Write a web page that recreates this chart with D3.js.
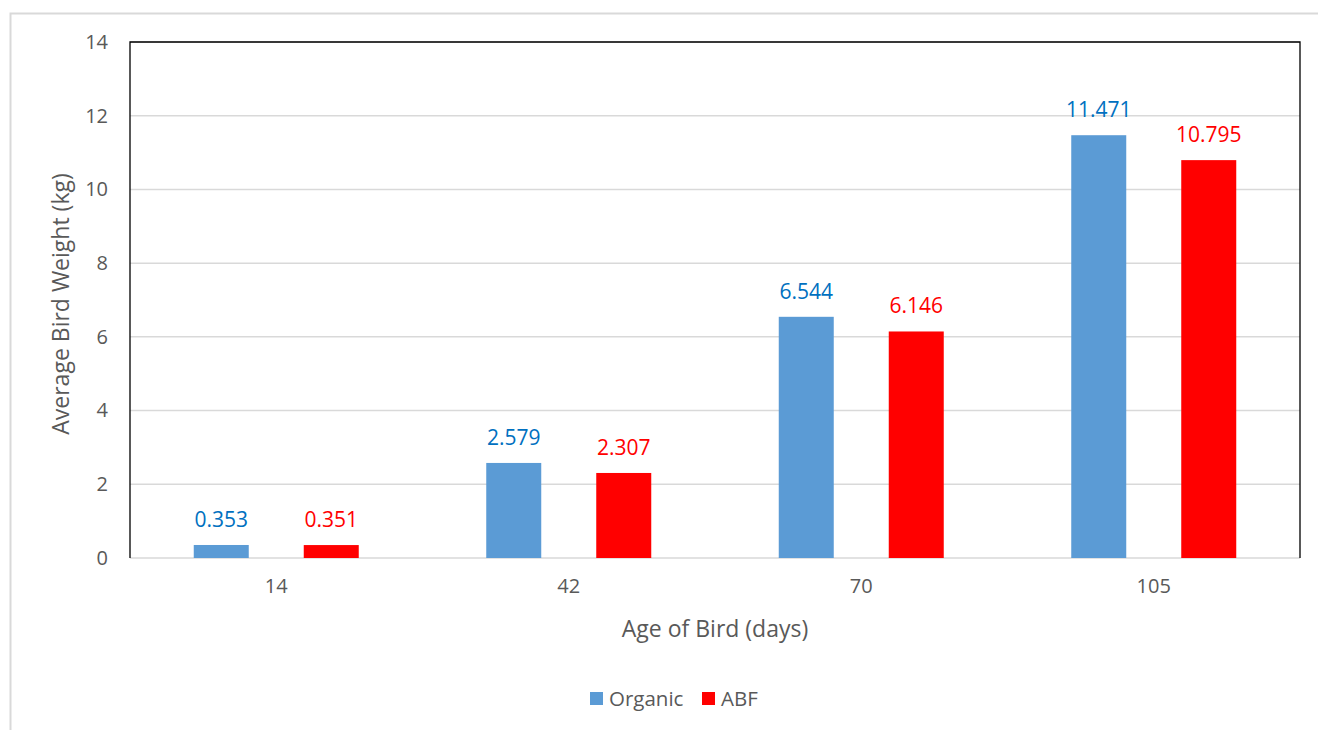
<!DOCTYPE html>
<html>
<head>
<meta charset="utf-8">
<script src="https://cdn.jsdelivr.net/npm/d3@7"></script>
<style>
  html, body { margin: 0; padding: 0; background: #fff; }
  svg { display: block; font-family: "Open Sans", "Noto Sans", sans-serif; }
</style>
</head>
<body>
<svg id="chart" width="1318" height="730"></svg>
<script>
// Bird age groups (days) and average weights (kg) per feeding programme
const categories = ["14", "42", "70", "105"];
const seriesNames = ["Organic", "ABF"];
const organicValues = [0.353, 2.579, 6.544, 11.471];
const abfValues = [0.351, 2.307, 6.146, 10.795];
const yTicks = [0, 2, 4, 6, 8, 10, 12, 14];

const barColors = { Organic: "#5b9bd5", ABF: "#ff0000" };
const labelColors = { Organic: "#0070c0", ABF: "#ff0000" };

const svg = d3.select("#chart");

// outer chart frame
svg.append("rect")
  .attr("x", 10.5).attr("y", 13.5)
  .attr("width", 1320).attr("height", 730)
  .attr("fill", "none").attr("stroke", "#d9d9d9").attr("stroke-width", 2);

const plot = { left: 130, top: 42, right: 1300, bottom: 558 };

const y = d3.scaleLinear().domain([0, 14]).range([plot.bottom, plot.top]);
const x0 = d3.scaleBand().domain(categories).range([plot.left, plot.right]).padding(0);
const groupPad = (x0.bandwidth() - 165) / 2;
const x1 = d3.scaleBand().domain(seriesNames)
  .range([groupPad, x0.bandwidth() - groupPad]).paddingInner(0.5).paddingOuter(0);

// horizontal gridlines
svg.append("g")
  .selectAll("line")
  .data(yTicks)
  .join("line")
  .attr("x1", plot.left).attr("x2", plot.right)
  .attr("y1", d => y(d)).attr("y2", d => y(d))
  .attr("stroke", "#d9d9d9").attr("stroke-width", 1.5);

// plot area border (left, top, right)
svg.append("path")
  .attr("d", `M${plot.left},${plot.bottom}V${plot.top}H${plot.right}V${plot.bottom}`)
  .attr("fill", "none").attr("stroke", "#000").attr("stroke-width", 1.3);

// y axis tick labels
const yAxis = d3.axisLeft(y).tickValues(yTicks).tickSize(0).tickPadding(22);
const gy = svg.append("g").attr("transform", `translate(${plot.left},0)`).call(yAxis);
gy.select(".domain").remove();
gy.selectAll("text")
  .attr("fill", "#595959")
  .style("font-size", "20px")
  .style("font-family", "'Open Sans', 'Noto Sans', sans-serif");

// x axis tick labels
const xAxis = d3.axisBottom(x0).tickSize(0).tickPadding(21);
const gx = svg.append("g").attr("transform", `translate(0,${plot.bottom})`).call(xAxis);
gx.select(".domain").remove();
gx.selectAll("text")
  .attr("fill", "#595959")
  .style("font-size", "20px")
  .style("font-family", "'Open Sans', 'Noto Sans', sans-serif");

// bars and value labels
const rows = categories.map((c, i) => ({
  category: c,
  values: [
    { series: "Organic", value: organicValues[i] },
    { series: "ABF", value: abfValues[i] }
  ]
}));

const groups = svg.append("g")
  .selectAll("g")
  .data(rows)
  .join("g")
  .attr("transform", d => `translate(${x0(d.category)},0)`);

groups.selectAll("rect")
  .data(d => d.values)
  .join("rect")
  .attr("x", d => x1(d.series))
  .attr("width", x1.bandwidth())
  .attr("y", d => y(d.value))
  .attr("height", d => y(0) - y(d.value))
  .attr("fill", d => barColors[d.series]);

groups.selectAll("text")
  .data(d => d.values)
  .join("text")
  .attr("x", d => x1(d.series) + x1.bandwidth() / 2)
  .attr("y", d => y(d.value) - 18)
  .attr("text-anchor", "middle")
  .attr("fill", d => labelColors[d.series])
  .style("font-size", "21px")
  .text(d => d.value.toFixed(3));

// axis titles
svg.append("text")
  .attr("x", (plot.left + plot.right) / 2)
  .attr("y", 637)
  .attr("text-anchor", "middle")
  .attr("fill", "#595959")
  .style("font-size", "23px")
  .text("Age of Bird (days)");

svg.append("text")
  .attr("transform", `translate(69,${(plot.top + plot.bottom) / 2 + 4}) rotate(-90)`)
  .attr("text-anchor", "middle")
  .attr("fill", "#595959")
  .style("font-size", "23px")
  .text("Average Bird Weight (kg)");

// legend
const legend = svg.append("g").attr("transform", "translate(590,0)");
const legendItems = [
  { name: "Organic", x: 0 },
  { name: "ABF", x: 112 }
];
const li = legend.selectAll("g").data(legendItems).join("g")
  .attr("transform", d => `translate(${d.x},0)`);
li.append("rect")
  .attr("x", 0).attr("y", 692)
  .attr("width", 13).attr("height", 13)
  .attr("fill", d => barColors[d.name]);
li.append("text")
  .attr("x", 19).attr("y", 706)
  .attr("fill", "#595959")
  .style("font-size", "20.5px")
  .text(d => d.name);
</script>
</body>
</html>
